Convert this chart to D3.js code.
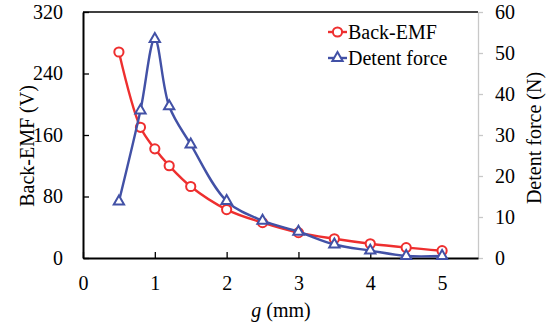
<!DOCTYPE html>
<html>
<head>
<meta charset="utf-8">
<script src="https://cdn.jsdelivr.net/npm/d3@7"></script>
<style>
  html, body { margin: 0; padding: 0; background: #fff; }
  svg { display: block; }
  svg text { font-family: "Liberation Serif", "Tinos", "Times New Roman", "DejaVu Serif", serif; }
</style>
</head>
<body>
<svg id="chart" width="557" height="330"></svg>
<script>
// Air-gap length g (mm)
const gap = [0.5, 0.8, 1.0, 1.2, 1.5, 2.0, 2.5, 3.0, 3.5, 4.0, 4.5, 5.0];
// Back-EMF (V), left axis
const backEmf = [268, 170, 142, 120, 93, 63, 46, 33, 25, 18.5, 13.5, 9.5];
// Detent force (N), right axis
const detentForce = [13.8, 36, 53.4, 37, 27.7, 13.9, 9.1, 6.4, 3.3, 1.8, 0.5, 0.5];

const xTicks = [0, 1, 2, 3, 4, 5];
const leftTicks = [0, 80, 160, 240, 320];
const rightTicks = [0, 10, 20, 30, 40, 50, 60];

const RED = "#ee2f2f";
const BLUE = "#4251a6";

const svg = d3.select("#chart");
const plot = { left: 83, right: 478, top: 12, bottom: 258 };

const x = d3.scaleLinear().domain([0, 5.5]).range([plot.left, plot.right]);
const yL = d3.scaleLinear().domain([0, 320]).range([plot.bottom, plot.top]);
const yR = d3.scaleLinear().domain([0, 60]).range([plot.bottom, plot.top]);

const fontSize = 20;

function styleAxis(g, color) {
  g.attr("font-family", null).attr("font-size", null);
  g.select(".domain").attr("stroke", color);
  g.selectAll(".tick line").attr("stroke", color).attr("stroke-width", 1.3);
  g.selectAll(".tick text").attr("font-size", fontSize).attr("fill", "#000");
}

// Top border
svg.append("line")
  .attr("x1", plot.left).attr("x2", plot.right)
  .attr("y1", plot.top).attr("y2", plot.top)
  .attr("stroke", "#000").attr("stroke-width", 1.3);

// Right (secondary) axis: light grey, outward ticks
const rightAxis = svg.append("g")
  .attr("transform", `translate(${plot.right},0)`)
  .call(d3.axisRight(yR).tickValues(rightTicks).tickSize(5).tickPadding(12).tickSizeOuter(0));
styleAxis(rightAxis, "#c8c8c8");
rightAxis.select(".domain").attr("stroke-width", 1.3);

// Left axis: black, inward ticks
const leftAxis = svg.append("g")
  .attr("transform", `translate(${plot.left},0)`)
  .call(d3.axisLeft(yL).tickValues(leftTicks).tickSize(-6).tickPadding(20).tickSizeOuter(0));
styleAxis(leftAxis, "#000");
leftAxis.select(".domain").attr("stroke-width", 2);

// Bottom axis: black, inward ticks
const bottomAxis = svg.append("g")
  .attr("transform", `translate(0,${plot.bottom})`)
  .call(d3.axisBottom(x).tickValues(xTicks).tickFormat(d3.format("d")).tickSize(-6).tickPadding(18).tickSizeOuter(0));
styleAxis(bottomAxis, "#000");
bottomAxis.select(".domain").attr("stroke-width", 2);

// Axis titles
svg.append("text")
  .attr("transform", "translate(34,146) rotate(-90)")
  .attr("text-anchor", "middle")
  .attr("font-size", fontSize)
  .text("Back-EMF (V)");

svg.append("text")
  .attr("transform", "translate(541,138) rotate(-90)")
  .attr("text-anchor", "middle")
  .attr("font-size", fontSize)
  .text("Detent force (N)");

const xTitle = svg.append("text")
  .attr("x", 281).attr("y", 317)
  .attr("text-anchor", "middle")
  .attr("font-size", fontSize);
xTitle.append("tspan").attr("font-style", "italic").text("g");
xTitle.append("tspan").text(" (mm)");

// Series
const emfData = gap.map((g, i) => ({ g, v: backEmf[i] }));
const forceData = gap.map((g, i) => ({ g, v: detentForce[i] }));

const curve = d3.curveCatmullRom.alpha(0.5);

svg.append("path")
  .datum(emfData)
  .attr("fill", "none").attr("stroke", RED).attr("stroke-width", 2.4)
  .attr("d", d3.line().x(d => x(d.g)).y(d => yL(d.v)).curve(curve));

svg.append("g").selectAll("circle")
  .data(emfData).join("circle")
  .attr("cx", d => x(d.g)).attr("cy", d => yL(d.v)).attr("r", 4.6)
  .attr("fill", "#fff").attr("stroke", RED).attr("stroke-width", 2);

const tri = d3.symbol().type(d3.symbolTriangle).size(46);

svg.append("path")
  .datum(forceData)
  .attr("fill", "none").attr("stroke", BLUE).attr("stroke-width", 2.4)
  .attr("d", d3.line().x(d => x(d.g)).y(d => yR(d.v)).curve(curve));

svg.append("g").selectAll("path")
  .data(forceData).join("path")
  .attr("transform", d => `translate(${x(d.g)},${yR(d.v)})`)
  .attr("d", tri)
  .attr("fill", "#fff").attr("stroke", BLUE).attr("stroke-width", 2);

// Legend
const legend = [
  { name: "Back-EMF", color: RED, kind: "circle", y: 32 },
  { name: "Detent force", color: BLUE, kind: "triangle", y: 58 }
];
const lg = svg.append("g");
legend.forEach(item => {
  lg.append("line")
    .attr("x1", 328).attr("x2", 347).attr("y1", item.y).attr("y2", item.y)
    .attr("stroke", item.color).attr("stroke-width", 2.4);
  if (item.kind === "circle") {
    lg.append("circle").attr("cx", 337.5).attr("cy", item.y).attr("r", 4.6)
      .attr("fill", "#fff").attr("stroke", item.color).attr("stroke-width", 2);
  } else {
    lg.append("path").attr("transform", `translate(337.5,${item.y})`).attr("d", tri)
      .attr("fill", "#fff").attr("stroke", item.color).attr("stroke-width", 2);
  }
  lg.append("text")
    .attr("x", 348).attr("y", item.y).attr("dy", "0.35em")
    .attr("font-size", fontSize)
    .text(item.name);
});
</script>
</body>
</html>
